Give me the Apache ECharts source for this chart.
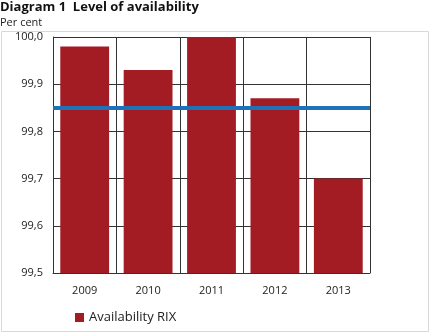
<!DOCTYPE html>
<html>
<head>
<meta charset="utf-8">
<script src="https://cdn.jsdelivr.net/npm/echarts@6/dist/echarts.min.js"></script>
<style>
  html, body { margin: 0; padding: 0; background: #fff; }
  #chart { width: 433px; height: 332px; }
</style>
</head>
<body>
<div id="chart"></div>
<script>
// data
const years = ['2009', '2010', '2011', '2012', '2013']
const availability = [99.98, 99.93, 100.0, 99.87, 99.70]
const target = [99.85]
const yTicks = [99.5, 99.6, 99.7, 99.8, 99.9, 100.0]

const font = '"Open Sans", "DejaVu Sans", sans-serif'
const chart = echarts.init(document.getElementById('chart'))

chart.setOption({
  animation: false,
  textStyle: { fontFamily: font },
  graphic: [
    {
      type: 'rect', silent: true, z: -1,
      shape: { x: 1.5, y: 31.5, width: 427, height: 300 },
      style: { fill: 'none', stroke: '#d8d8d8', lineWidth: 1 }
    },
    {
      type: 'text', left: 0, top: 1,
      style: { text: 'Diagram 1  Level of availability', font: 'bold 13px ' + font, fill: '#111' }
    },
    {
      type: 'text', left: 0, top: 17,
      style: { text: 'Per cent', font: '11px ' + font, fill: '#222' }
    }
  ],
  grid: { left: 53, right: 63, top: 37, bottom: 59 },
  legend: {
    left: 70, bottom: 3,
    itemWidth: 9, itemHeight: 9, itemGap: 10,
    textStyle: { fontSize: 13, color: '#222', fontFamily: font },
    data: [{ name: 'Availability RIX', icon: 'rect' }]
  },
  xAxis: {
    type: 'category',
    data: years,
    axisLine: { lineStyle: { color: '#333', width: 1 } },
    axisTick: { show: false },
    axisLabel: { color: '#222', fontSize: 11, margin: 12 },
    splitLine: { show: true, interval: 0, lineStyle: { color: '#333', width: 1 } }
  },
  yAxis: {
    type: 'value',
    min: yTicks[0],
    max: yTicks[yTicks.length - 1],
    interval: 0.1,
    axisLine: { show: true, lineStyle: { color: '#333', width: 1 } },
    axisTick: { show: false },
    axisLabel: {
      color: '#222', fontSize: 11, margin: 10,
      formatter: v => v.toFixed(1).replace('.', ',')
    },
    splitLine: { show: true, lineStyle: { color: '#333', width: 1 } }
  },
  series: [{
    name: 'Availability RIX',
    type: 'bar',
    data: availability,
    barWidth: '77%',
    itemStyle: { color: '#a31c24' },
    markLine: {
      silent: true,
      symbol: 'none',
      label: { show: false },
      lineStyle: { color: '#1f72b8', width: 4, type: 'solid' },
      data: target.map(v => ({ yAxis: v }))
    }
  }]
})
</script>
</body>
</html>
